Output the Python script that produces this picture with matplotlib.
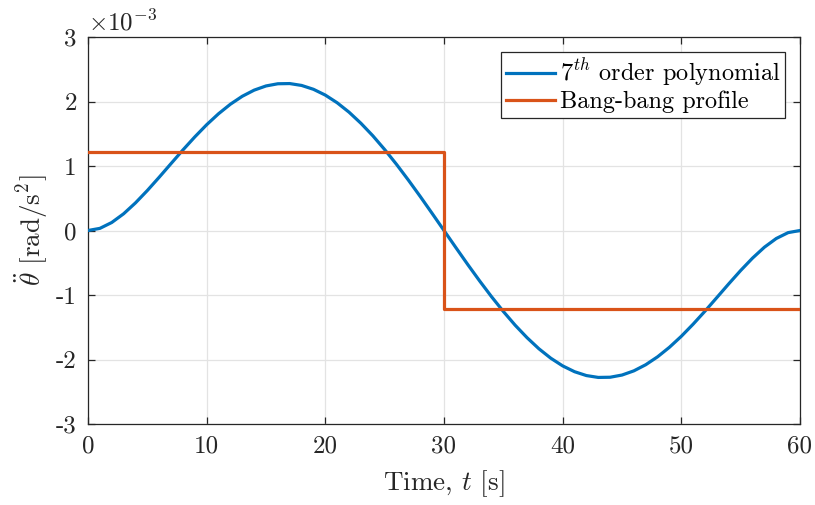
import matplotlib
matplotlib.use("Agg")
import matplotlib.pyplot as plt

# time samples [s]
t = list(range(0, 61))
# 7th order polynomial acceleration, in units of 1e-3 rad/s^2
poly_first = [0.0, 0.033, 0.124, 0.259, 0.428, 0.620, 0.826, 1.038, 1.249, 1.451,
              1.640, 1.810, 1.958, 2.081, 2.176, 2.241, 2.275, 2.278, 2.249, 2.189,
              2.099, 1.980, 1.834, 1.662, 1.469, 1.255, 1.025, 0.781, 0.527, 0.265,
              0.0]
poly_second = [-0.265, -0.527, -0.781, -1.025, -1.255, -1.469, -1.662, -1.834, -1.980,
               -2.099, -2.189, -2.249, -2.278, -2.275, -2.241, -2.176, -2.081, -1.958,
               -1.810, -1.640, -1.451, -1.249, -1.038, -0.826, -0.620, -0.428, -0.259,
               -0.124, -0.033, 0.0]
poly = poly_first + poly_second

# Bang-bang profile
bang_t = [0, 30, 30, 60]
bang_v = [1.22, 1.22, -1.22, -1.22]
scale = 1e-3

xticks = [0, 10, 20, 30, 40, 50, 60]
yticks = [-3, -2, -1, 0, 1, 2, 3]

plt.rcParams['font.family'] = 'cmr10'
plt.rcParams['mathtext.fontset'] = 'cm'
plt.rcParams['axes.unicode_minus'] = False
plt.rcParams['axes.formatter.use_mathtext'] = True

fig = plt.figure(figsize=(8.15, 5.05), dpi=100)
ax = fig.add_axes([88/815, 1-424/505, (800-88)/815, (424-37)/505])

blue = '#0072BD'
orange = '#D95319'
ax.plot(t, [v * scale for v in poly], color=blue, lw=2.3, label=r'$7^{th}$ order polynomial', zorder=3)
ax.plot(bang_t, [v * scale for v in bang_v], color=orange, lw=2.3, label='Bang-bang profile', zorder=3)

ax.set_xlim(0, 60)
ax.set_ylim(-3e-3, 3e-3)
ax.set_xticks(xticks)
ax.set_xticklabels([str(v) for v in xticks])
ax.set_yticks([v * scale for v in yticks])
ax.set_yticklabels([str(v) for v in yticks])
ax.grid(True, color='#e3e3e3', lw=0.9)
ax.set_axisbelow(True)
for s in ax.spines.values():
    s.set_color('#262626')
    s.set_linewidth(0.9)
ax.tick_params(direction='in', length=5, width=0.9, colors='#262626', labelsize=18,
               top=True, right=True, labelcolor='#262626')
ax.tick_params(axis='x', pad=8)
ax.tick_params(axis='y', pad=8)

ax.set_xlabel(r'Time, $t$ [s]', fontsize=19.5, labelpad=8, color='#262626')
ax.set_ylabel(r'$\ddot{\theta}$ [rad/s$^2$]', fontsize=19.5, labelpad=4, color='#262626')
ax.text(0.0, 1.005, r'$\times10^{-3}$', transform=ax.transAxes, fontsize=18,
        ha='left', va='bottom', color='#262626')

leg = ax.legend(loc='upper right', bbox_to_anchor=(0.979, 0.961), fontsize=17.5,
                frameon=True, fancybox=False, edgecolor='#262626', framealpha=1,
                borderpad=0.2, labelspacing=0.1, handlelength=2.0, handletextpad=0.2,
                borderaxespad=0)
leg.get_frame().set_linewidth(0.9)

fig.savefig('out.png', dpi=100)
